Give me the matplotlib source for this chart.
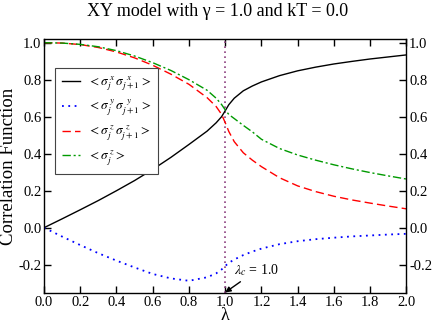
import matplotlib
matplotlib.use('Agg')
import matplotlib.pyplot as plt
import numpy as np

# values
lam = [0.0, 0.1, 0.2, 0.3, 0.4, 0.5, 0.6, 0.7, 0.8, 0.9, 0.95, 0.98, 1.0,
       1.02, 1.05, 1.1, 1.15, 1.2, 1.3, 1.4, 1.5, 1.6, 1.7, 1.8, 1.9, 2.0]
sxx = [0.0, 0.048, 0.097, 0.147, 0.200, 0.255, 0.315, 0.380, 0.450, 0.522, 0.567, 0.600, 0.632,
       0.665, 0.700, 0.740, 0.766, 0.788, 0.822, 0.848, 0.868, 0.885, 0.899, 0.912, 0.923, 0.934]
syy = [0.0, -0.048, -0.094, -0.138, -0.178, -0.215, -0.250, -0.274, -0.287, -0.268, -0.247, -0.226, -0.207,
       -0.190, -0.172, -0.148, -0.129, -0.113, -0.089, -0.073, -0.062, -0.054, -0.047, -0.042, -0.037, -0.033]
szz = [1.0, 0.998, 0.990, 0.974, 0.950, 0.918, 0.878, 0.830, 0.775, 0.703, 0.655, 0.613, 0.568,
       0.520, 0.465, 0.405, 0.365, 0.330, 0.270, 0.226, 0.195, 0.170, 0.150, 0.133, 0.117, 0.102]
sz = [1.0, 0.998, 0.991, 0.978, 0.957, 0.928, 0.892, 0.850, 0.800, 0.743, 0.700, 0.666, 0.637,
      0.612, 0.590, 0.553, 0.518, 0.478, 0.428, 0.393, 0.365, 0.340, 0.318, 0.298, 0.280, 0.263]

labels = [r'$<\sigma_j^{\,x}\,\sigma_{j+1}^{\;\,x}>$',
          r'$<\sigma_j^{\,y}\,\sigma_{j+1}^{\;\,y}>$',
          r'$<\sigma_j^{\,z}\,\sigma_{j+1}^{\;\,z}>$',
          r'$<\sigma_j^{\,z}>$']

plt.rcParams['font.family'] = ['Liberation Serif', 'DejaVu Serif']
plt.rcParams['mathtext.fontset'] = 'stix'

fig = plt.figure(figsize=(4.36, 3.25), dpi=100)
ax = fig.add_axes([0.101, 0.099, 0.831, 0.781])

ax.axvline(1.0, color='#8b3f7f', lw=1.2, ls=(0, (1, 2)))
ax.plot(lam, sxx, color='black', lw=1.0, label=labels[0])
ax.plot(lam, syy, color='blue', lw=1.3, ls=(0, (1, 2.5)), label=labels[1])
ax.plot(lam, szz, color='red', lw=1.0, ls=(0, (6, 3)), label=labels[2])
ax.plot(lam, sz, color='#009a00', lw=1.0, ls=(0, (6, 2, 1.5, 2)), label=labels[3])

ax.set_xlim(0, 2.0)
ax.set_ylim(-0.352, 1.02)
ax.set_xticks(np.arange(0, 2.01, 0.2))
ax.set_yticks(np.arange(-0.2, 1.01, 0.2))
ax.xaxis.set_major_formatter(plt.FormatStrFormatter('%.1f'))
ax.yaxis.set_major_formatter(plt.FormatStrFormatter('%.1f'))
ax.tick_params(direction='in', top=True, right=True, labelright=True,
               length=5, width=1, labelsize=10.5, pad=2)
for s in ax.spines.values():
    s.set_linewidth(1.0)

ax.set_xlabel('λ', fontsize=13, labelpad=-1)
ax.set_ylabel('Correlation Function', fontsize=13.5, labelpad=1)
fig.suptitle('XY model with γ = 1.0 and kT = 0.0', fontsize=13, y=0.99)

ax.annotate(r'$\lambda_c$ = 1.0', xy=(1.0, -0.35), xytext=(1.05, -0.23),
            fontsize=10, va='center',
            arrowprops=dict(arrowstyle='-|>', color='black', lw=1, shrinkA=1, shrinkB=0,
                            mutation_scale=8))

leg = ax.legend(loc='upper left', bbox_to_anchor=(0.03, 0.887), borderaxespad=0,
                fontsize=9.5, fancybox=False, edgecolor='#444444', framealpha=1,
                handlelength=1.4, labelspacing=0.4, borderpad=0.5, handletextpad=0.6)
leg.get_frame().set_linewidth(0.8)

fig.savefig('out.png', dpi=100)
